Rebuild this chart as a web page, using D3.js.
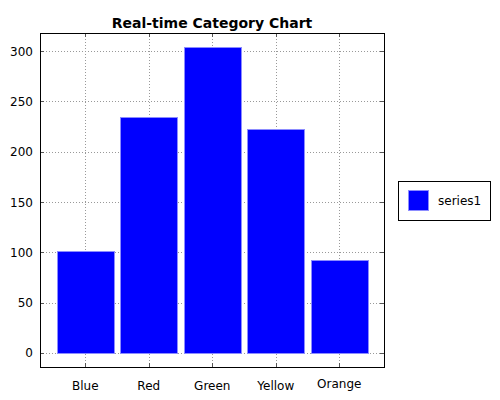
<!DOCTYPE html>
<html>
<head>
<meta charset="utf-8">
<script src="https://cdn.jsdelivr.net/npm/d3@7"></script>
<style>
  body { margin: 0; background: #fff; }
  text { font-family: "DejaVu Sans", sans-serif; fill: #000; }
</style>
</head>
<body>
<div id="chart"></div>
<script>
const categories = ["Blue", "Red", "Green", "Yellow", "Orange"];
const series1 = [101, 235, 304, 223, 92];
const yTicks = [0, 50, 100, 150, 200, 250, 300];
const seriesName = "series1";

const width = 500, height = 400;
const plot = {left: 40, top: 33, right: 384, bottom: 367};

function main() {
    const svg = d3.select("#chart")
        .append("svg")
        .attr("width", width)
        .attr("height", height);

    const x = d3.scaleBand()
        .domain(categories)
        .range([53.5, 371])
        .paddingInner(0.1)
        .paddingOuter(0.05);

    const y = d3.scaleLinear()
        .domain([-14, 318])
        .range([plot.bottom, plot.top]);

    // title
    svg.append("text")
        .attr("x", (plot.left + plot.right) / 2)
        .attr("y", 28)
        .attr("text-anchor", "middle")
        .style("font-size", "14px")
        .style("font-weight", "bold")
        .text("Real-time Category Chart");

    const grid = svg.append("g");

    // horizontal grid
    grid.selectAll(".hgrid")
        .data(yTicks)
        .enter()
        .append("line")
        .attr("x1", plot.left)
        .attr("x2", plot.right)
        .attr("y1", d => Math.round(y(d)) + 0.5)
        .attr("y2", d => Math.round(y(d)) + 0.5)
        .attr("stroke", "#999")
        .attr("stroke-dasharray", "1,2");

    // vertical grid
    grid.selectAll(".vgrid")
        .data(categories)
        .enter()
        .append("line")
        .attr("x1", d => Math.round(x(d) + x.bandwidth() / 2) + 0.5)
        .attr("x2", d => Math.round(x(d) + x.bandwidth() / 2) + 0.5)
        .attr("y1", plot.top)
        .attr("y2", plot.bottom)
        .attr("stroke", "#999")
        .attr("stroke-dasharray", "1,2");

    // bars
    svg.append("g")
        .selectAll("rect")
        .data(series1)
        .enter()
        .append("rect")
        .attr("x", (d, i) => Math.round(x(categories[i])) + 0.5)
        .attr("y", d => Math.round(y(d)) + 0.5)
        .attr("width", Math.round(x.bandwidth()))
        .attr("height", d => Math.round(y(0)) - Math.round(y(d)))
        .attr("fill", "#0000ff")
        .attr("stroke", "#8c8cff")
        .attr("stroke-width", 1);

    // small tick marks on all four sides
    const ticks = svg.append("g").attr("stroke", "#555");
    yTicks.forEach(t => {
        const yy = Math.round(y(t)) + 0.5;
        ticks.append("line").attr("x1", plot.left).attr("x2", plot.left + 4).attr("y1", yy).attr("y2", yy);
        ticks.append("line").attr("x1", plot.right - 4).attr("x2", plot.right).attr("y1", yy).attr("y2", yy);
    });
    categories.forEach(c => {
        const xx = Math.round(x(c) + x.bandwidth() / 2) + 0.5;
        ticks.append("line").attr("x1", xx).attr("x2", xx).attr("y1", plot.bottom - 4).attr("y2", plot.bottom);
        ticks.append("line").attr("x1", xx).attr("x2", xx).attr("y1", plot.top).attr("y2", plot.top + 4);
    });

    // frame
    svg.append("rect")
        .attr("x", plot.left + 0.5)
        .attr("y", plot.top + 0.5)
        .attr("width", plot.right - plot.left)
        .attr("height", plot.bottom - plot.top)
        .attr("fill", "none")
        .attr("stroke", "#000");

    // y labels
    svg.append("g")
        .selectAll("text")
        .data(yTicks)
        .enter()
        .append("text")
        .attr("x", 33)
        .attr("y", d => y(d) + 4.5)
        .attr("text-anchor", "end")
        .style("font-size", "12px")
        .text(d => d);

    // x labels (centred on their ink, so words with descenders sit higher)
    svg.append("g")
        .selectAll("text")
        .data(categories)
        .enter()
        .append("text")
        .attr("x", d => x(d) + x.bandwidth() / 2)
        .attr("y", d => /[gjpqy]/.test(d) ? 387.5 : 389.5)
        .attr("text-anchor", "middle")
        .style("font-size", "12px")
        .text(d => d);

    // legend
    const legend = svg.append("g");
    legend.append("rect")
        .attr("x", 398.5)
        .attr("y", 181.5)
        .attr("width", 92)
        .attr("height", 39)
        .attr("fill", "#fff")
        .attr("stroke", "#000");
    legend.append("rect")
        .attr("x", 408.5)
        .attr("y", 190.5)
        .attr("width", 20)
        .attr("height", 20)
        .attr("fill", "#0000ff")
        .attr("stroke", "#8c8cff");
    legend.append("text")
        .attr("x", 438)
        .attr("y", 205)
        .style("font-size", "12px")
        .text(seriesName);
}

main();
</script>
</body>
</html>
